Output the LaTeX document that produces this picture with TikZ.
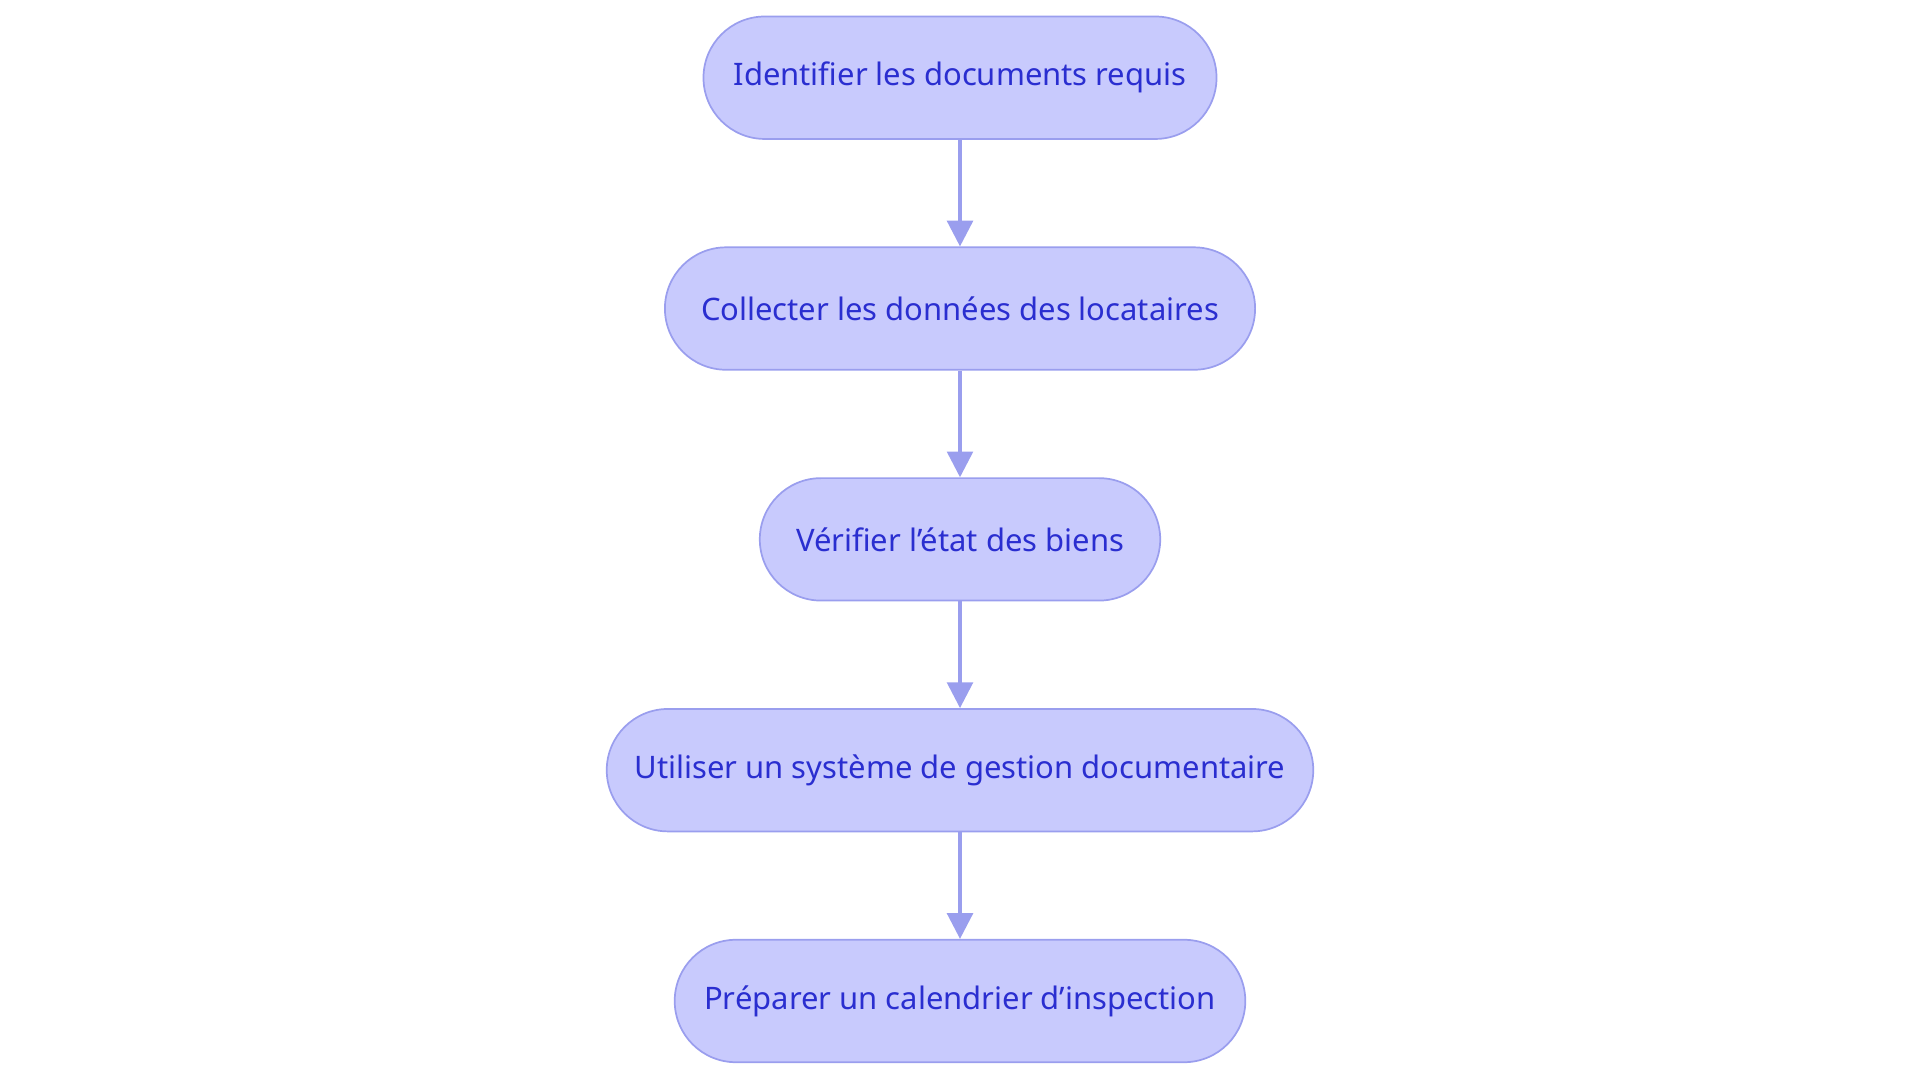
\documentclass[tikz,border=0pt]{standalone}
\usepackage{fontspec}
\setmainfont{Noto Sans}
\usetikzlibrary{positioning, arrows.meta}
\definecolor{stepfill}{RGB}{200,202,253}
\definecolor{stepdraw}{RGB}{154,158,238}
\definecolor{steptext}{RGB}{42,46,208}

\begin{document}
\begin{tikzpicture}[
			x=1mm, y=1mm,
			node distance=18.85mm,
			on grid,
			task/.style={
				draw=stepdraw,
				fill=stepfill,
				rounded corners=5mm,
				minimum height=10mm,
				text=steptext,
				font=\fontsize{7.2}{9}\selectfont,
				line width=0.4pt
			},
			flow/.style={
				draw=stepdraw,
				-{Triangle[length=2.1mm,width=2.1mm]},
				line width=0.8pt
			}
			]
			\useasboundingbox (0,0) rectangle (156.8,88.44);
			% Steps
			\node[task, minimum width=41.9mm] (docs) at (78.4,82.09) {Identifier les documents requis};
			\node[task, minimum width=48.2mm] (collect) [below=of docs] {Collecter les données des locataires};
			\node[task, minimum width=32.7mm] (verify) [below=of collect] {Vérifier l'état des biens};
			\node[task, minimum width=57.7mm] (system) [below=of verify] {Utiliser un système de gestion documentaire};
			\node[task, minimum width=46.6mm] (plan) [below=of system] {Préparer un calendrier d'inspection};
			
			% Arrows
			\draw[flow] (docs) -- (collect);
			\draw[flow] (collect) -- (verify);
			\draw[flow] (verify) -- (system);
			\draw[flow] (system) -- (plan);
		\end{tikzpicture}
\end{document}
